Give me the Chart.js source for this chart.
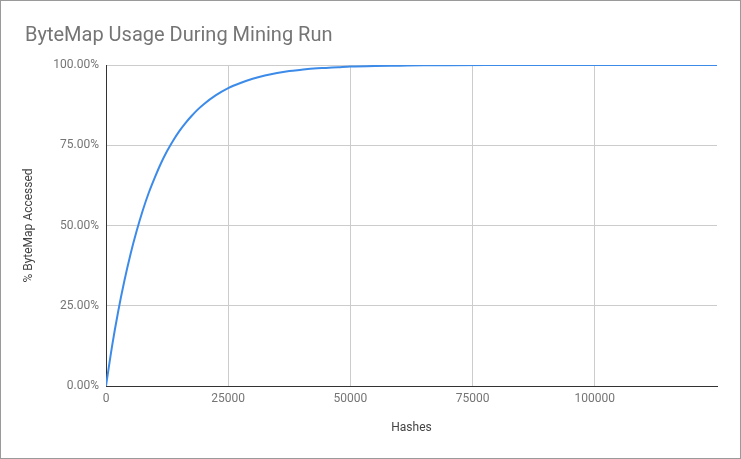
<!DOCTYPE html>
<html>
<head>
<meta charset="utf-8">
<script src="https://cdn.jsdelivr.net/npm/chart.js@4"></script>
<style>
  html, body { margin: 0; padding: 0; background: #fff; }
  #frame { width: 741px; height: 459px; box-sizing: border-box; border: 1px solid #9a9a9a; position: relative; background: #fff; }
  #c { display: block; }
</style>
</head>
<body>
<div id="frame"><canvas id="c" width="739" height="457"></canvas></div>
<script>
const chartTitle = 'ByteMap Usage During Mining Run';
const xAxisTitle = 'Hashes';
const yAxisTitle = '% ByteMap Accessed';
const hashes = [0, 1250, 2500, 3750, 5000, 6250, 7500, 8750, 10000, 11250, 12500, 13750, 15000, 16250, 17500, 18750, 20000, 22500, 25000, 27500, 30000, 32500, 35000, 37500, 40000, 42500, 45000, 47500, 50000, 55000, 60000, 65000, 70000, 80000, 90000, 100000, 110000, 125000];
const pctAccessed = [0, 12.5, 23.3, 32.7, 41.0, 48.2, 54.6, 60.2, 65.0, 69.4, 73.2, 76.5, 79.4, 81.9, 84.1, 86.1, 87.8, 90.6, 92.8, 94.4, 95.7, 96.7, 97.5, 98.1, 98.5, 98.9, 99.1, 99.3, 99.5, 99.7, 99.8, 99.9, 99.95, 99.98, 99.99, 100, 100, 100];
const xTicks = [0, 25000, 50000, 75000, 100000];
const yTicks = [0, 25, 50, 75, 100];

const points = hashes.map((h, i) => ({ x: h, y: pctAccessed[i] }));

const titlePlugin = {
  id: 'leftTitle',
  afterDraw(chart) {
    const ctx = chart.ctx;
    ctx.save();
    ctx.font = '20px Roboto';
    ctx.fillStyle = '#757575';
    ctx.textBaseline = 'alphabetic';
    ctx.textAlign = 'left';
    ctx.fillText(chartTitle, 24, 40);
    ctx.restore();
  }
};

new Chart(document.getElementById('c'), {
  type: 'line',
  data: {
    datasets: [{
      data: points,
      borderColor: '#3d8be9',
      backgroundColor: '#3d8be9',
      borderWidth: 2,
      pointRadius: 0,
      fill: false,
      cubicInterpolationMode: 'monotone'
    }]
  },
  plugins: [titlePlugin],
  options: {
    responsive: false,
    animation: false,
    events: [],
    layout: { padding: { left: 0, right: 23, top: 64, bottom: 0 } },
    plugins: { legend: { display: false }, tooltip: { enabled: false }, title: { display: false } },
    scales: {
      x: {
        type: 'linear',
        min: 0,
        max: 125000,
        afterBuildTicks(scale) { scale.ticks = xTicks.map(v => ({ value: v })); },
        afterFit(scale) { scale.height = 72; },
        grid: { color: '#cccccc', drawTicks: false },
        border: { color: '#333333', width: 1 },
        ticks: {
          padding: 6,
          color: '#757575',
          font: { family: 'Roboto', size: 12 },
          maxRotation: 0,
          callback: v => String(v)
        },
        title: {
          display: true,
          text: xAxisTitle,
          color: '#444444',
          font: { family: 'Roboto', size: 12 },
          padding: { top: 0, bottom: 23 }
        }
      },
      y: {
        type: 'linear',
        min: 0,
        max: 100,
        afterBuildTicks(scale) { scale.ticks = yTicks.map(v => ({ value: v })); },
        afterFit(scale) { scale.width = 105; },
        grid: { color: '#cccccc', drawTicks: false },
        border: { color: '#333333', width: 1 },
        ticks: {
          padding: 7,
          color: '#757575',
          font: { family: 'Roboto', size: 12 },
          callback: v => v.toFixed(2) + '%'
        },
        title: {
          display: true,
          text: yAxisTitle,
          color: '#444444',
          font: { family: 'Roboto', size: 12 },
          padding: { top: 21, bottom: 0 }
        }
      }
    }
  }
});
</script>
</body>
</html>
